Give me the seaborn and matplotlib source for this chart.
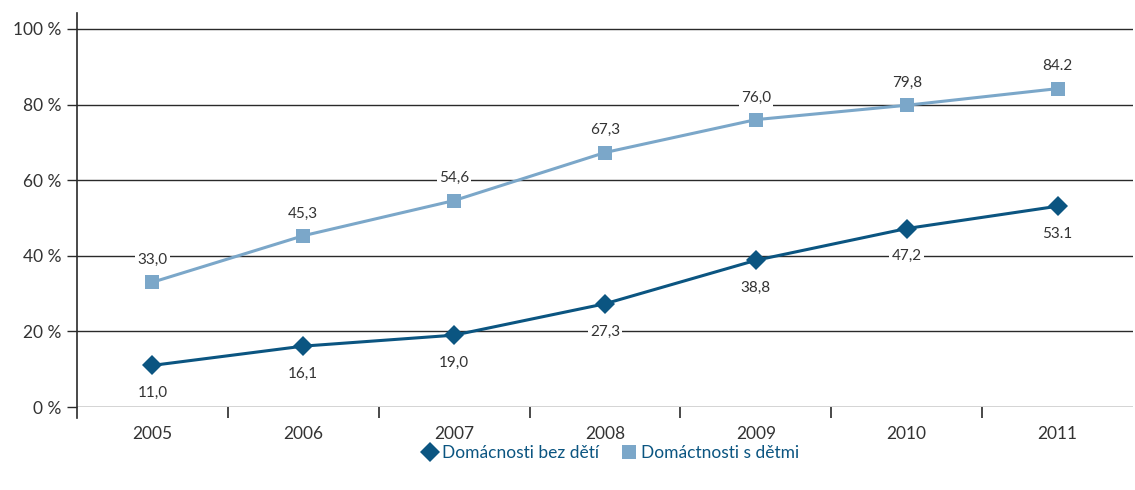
import matplotlib
matplotlib.use("Agg")
import matplotlib.pyplot as plt
import seaborn as sns
import pandas as pd
import numpy as np

years = ["2005", "2006", "2007", "2008", "2009", "2010", "2011"]
bez_deti = [11.0, 16.1, 19.0, 27.3, 38.8, 47.2, 53.1]
s_detmi = [33.0, 45.3, 54.6, 67.3, 76.0, 79.8, 84.2]
bez_labels = ["11,0", "16,1", "19,0", "27,3", "38,8", "47,2", "53.1"]
s_labels = ["33,0", "45,3", "54,6", "67,3", "76,0", "79,8", "84.2"]
y_ticks = [0, 20, 40, 60, 80, 100]
y_ticklabels = ["0 %", "20 %", "40 %", "60 %", "80 %", "100 %"]
series_names = ["Domácnosti bez dětí", "Domáctnosti s dětmi"]

sns.set_style("white")
plt.rcParams['font.family'] = ['Lato', 'DejaVu Sans']

dark = "#0b5581"
light = "#7ba7c9"
grid_c = "#2a2a2a"
text_c = "#333333"

fig = plt.figure(figsize=(11.35, 4.9), dpi=100)
ax = fig.add_axes([77/1135, 1-407/490, (1133-77)/1135, (407-13)/490])

x = np.arange(len(years))
df = pd.DataFrame({"x": np.concatenate([x, x]),
                   "val": bez_deti + s_detmi,
                   "series": [series_names[0]]*len(x) + [series_names[1]]*len(x)})

for yv in y_ticks:
    ax.axhline(yv, color=grid_c, lw=1.0, zorder=1)

sns.lineplot(data=df[df.series == series_names[0]], x="x", y="val", ax=ax,
             color=dark, lw=2.2, marker="D", markersize=10, markeredgewidth=0,
             zorder=3, label=series_names[0], legend=False)
sns.lineplot(data=df[df.series == series_names[1]], x="x", y="val", ax=ax,
             color=light, lw=2.2, marker="s", markersize=10, markeredgewidth=0,
             zorder=3, label=series_names[1], legend=False)

bbox = dict(boxstyle="square,pad=0.15", fc="white", ec="none")
for xi, v, lab in zip(x, bez_deti, bez_labels):
    ax.annotate(lab, (xi, v), xytext=(0, -20), textcoords="offset points",
                ha="center", va="center", fontsize=11, color=text_c, bbox=bbox, zorder=2)
for xi, v, lab in zip(x, s_detmi, s_labels):
    ax.annotate(lab, (xi, v), xytext=(0, 16), textcoords="offset points",
                ha="center", va="center", fontsize=11, color=text_c, bbox=bbox, zorder=2)

for s in ["top", "right", "bottom"]:
    ax.spines[s].set_visible(False)
ax.spines["left"].set_color(grid_c)
ax.spines["left"].set_linewidth(1.2)

ax.set_xlim(-0.5, len(years) - 0.5)
ax.set_ylim(0, 104.2)
ax.spines["left"].set_bounds(-3.0, 104.2)
ax.set_yticks(y_ticks)
ax.set_yticklabels(y_ticklabels)
ax.set_xticks(x)
ax.set_xticklabels(years)
ax.set_xticks(np.arange(0.5, len(years) - 1, 1.0), minor=True)
ax.tick_params(axis="both", which="major", labelsize=12.5, labelcolor=text_c)
ax.tick_params(axis="x", which="major", bottom=True, length=0, pad=14)
ax.tick_params(axis="x", which="minor", bottom=True, length=8, width=1.2,
               color=grid_c, direction="out")
ax.tick_params(axis="y", which="major", left=True, length=7.5, width=1.0,
               color=grid_c, direction="out", pad=4)
ax.set_xlabel("")
ax.set_ylabel("")

handles = [plt.Line2D([], [], color=dark, marker="D", markersize=10, lw=0, markeredgewidth=0),
           plt.Line2D([], [], color=light, marker="s", markersize=10, lw=0, markeredgewidth=0)]
fig.legend(handles, series_names, loc="center", bbox_to_anchor=(610/1135, 1-453/490),
           ncol=2, frameon=False, fontsize=12.5, labelcolor=dark, handletextpad=0.2,
           columnspacing=1.2, handlelength=1.0)

fig.savefig("out.png", dpi=100)
